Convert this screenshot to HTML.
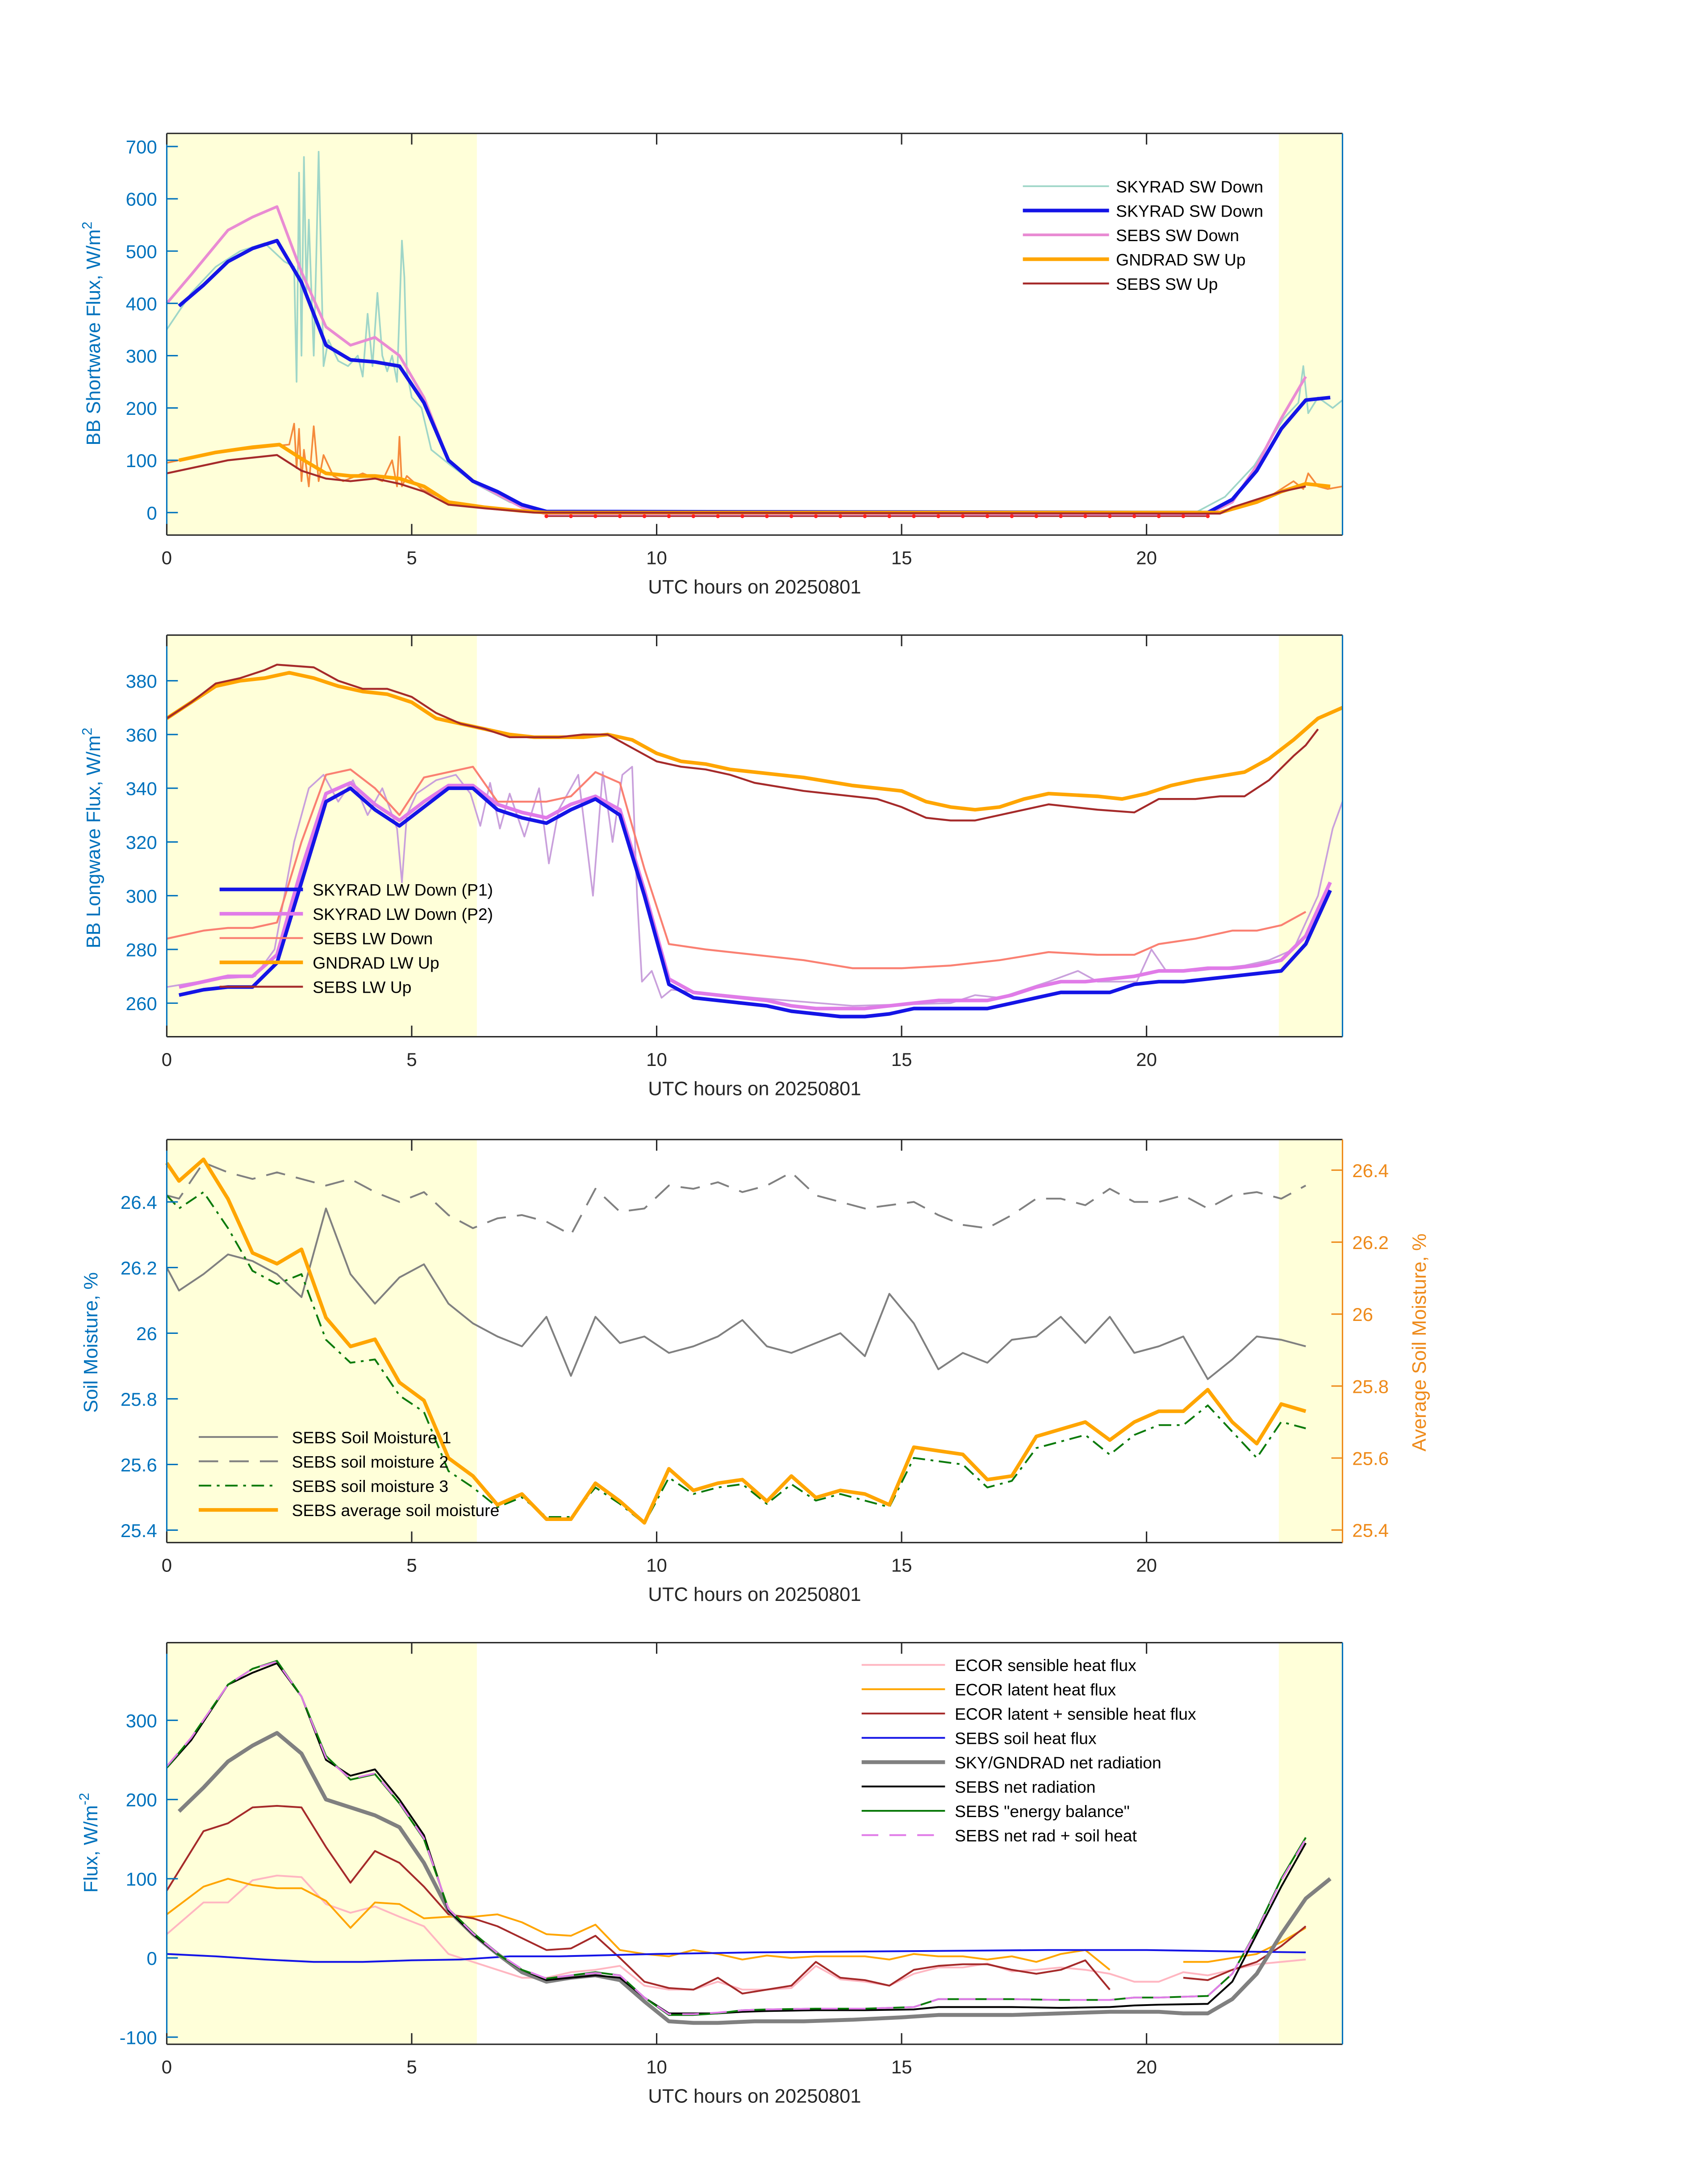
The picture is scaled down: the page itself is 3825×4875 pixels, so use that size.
<!DOCTYPE html>
<html><head><meta charset="utf-8"><style>
html,body{margin:0;padding:0;background:#fff;}
svg{display:block;font-family:"Liberation Sans","DejaVu Sans",sans-serif;}
</style></head><body>
<svg id="fig" width="3825" height="4875" viewBox="0 0 1229 1566.5" preserveAspectRatio="none" xmlns="http://www.w3.org/2000/svg"></svg>
<script>
// ---------- DATA ----------
const hrs = [0.25,0.75,1.25,1.75,2.25,2.75,3.25,3.75,4.25,4.75,5.25,5.75,6.25,6.75,7.25,7.75,8.25,8.75,9.25,9.75,10.25,10.75,11.25,11.75,12.25,12.75,13.25,13.75,14.25,14.75,15.25,15.75,16.25,16.75,17.25,17.75,18.25,18.75,19.25,19.75,20.25,20.75,21.25,21.75,22.25,22.75,23.25,23.75];
// Panel 1 (shortwave)
const swSkyT = [0.25,0.75,1.25,1.75,2.25,2.75,3.25,3.75,4.25,4.75,5.25,5.75,6.25,6.75,7.25,7.75,21.25,21.75,22.25,22.75,23.25,23.75];
const swSkyV = [395,435,480,505,520,440,320,292,288,280,210,100,60,40,15,2,0,25,80,160,215,220];
const swSkyRawT = [0,0.5,1,1.5,2,2.4,2.6,2.65,2.7,2.75,2.8,2.85,2.9,3.0,3.05,3.1,3.2,3.3,3.5,3.7,3.9,4.0,4.1,4.2,4.3,4.4,4.5,4.6,4.7,4.8,4.85,4.9,5.0,5.2,5.4,5.8,6.3,7,7.8,21,21.6,22.2,22.8,23.1,23.2,23.3,23.5,23.8,24];
const swSkyRawV = [350,420,470,500,515,480,470,250,650,300,680,420,560,300,480,690,280,330,290,280,300,260,380,280,420,300,270,300,250,520,450,270,220,200,120,90,55,20,2,0,30,90,180,210,280,190,220,200,215];
const swSebsT = [0,0.5,1.25,1.75,2.25,2.75,3.25,3.75,4.25,4.75,5.25,5.75,6.25,6.75,7.25,7.75,21.25,21.75,22.25,22.75,23.25];
const swSebsV = [400,455,540,565,585,460,355,320,335,300,220,100,60,35,10,-3,-3,20,90,180,260];
const swGndT = [0.25,1,1.75,2.3,2.8,3.25,3.75,4.25,4.75,5.25,5.75,6.5,7.25,7.75,21.5,22.25,22.75,23.25,23.75];
const swGndV = [100,115,125,130,100,75,70,70,65,50,20,10,3,0,0,20,40,55,50];
const swGndRawT = [0,1,2,2.5,2.6,2.65,2.7,2.75,2.8,2.9,3.0,3.1,3.2,3.4,3.6,4.0,4.4,4.6,4.7,4.75,4.8,4.9,5.2,5.8,6.5,7.5,21.5,22.5,23.0,23.2,23.3,23.5,23.7,24];
const swGndRawV = [95,115,125,130,170,85,160,60,120,50,165,60,110,70,60,75,60,100,50,145,50,70,45,20,8,0,0,30,60,45,75,50,45,50];
const swSebsUpT = [0,1.25,2.25,2.75,3.25,3.75,4.25,4.75,5.25,5.75,6.5,7.5,21.5,21.75,22.25,22.75,23.25];
const swSebsUpV = [75,100,110,80,65,60,65,55,40,15,8,0,-2,10,25,40,50];
const swDotT = [7.75,8.25,8.75,9.25,9.75,10.25,10.75,11.25,11.75,12.25,12.75,13.25,13.75,14.25,14.75,15.25,15.75,16.25,16.75,17.25,17.75,18.25,18.75,19.25,19.75,20.25,20.75,21.25];
const swDotV = [-7,-7,-7,-7,-7,-7,-7,-7,-7,-7,-7,-7,-7,-7,-7,-7,-7,-7,-7,-7,-7,-7,-7,-7,-7,-7,-7,-7];
// Panel 2 (longwave)
const lwP1V = [263,265,266,266,275,305,335,340,332,326,333,340,340,332,329,327,332,336,330,300,267,262,261,260,259,257,256,255,255,256,258,258,258,258,260,262,264,264,264,267,268,268,269,270,271,272,282,302];
const lwP2V = [266,268,270,270,278,310,338,342,334,328,335,341,341,334,331,329,334,337,332,302,269,264,263,262,261,259,258,258,258,259,260,261,261,261,263,266,268,268,269,270,272,272,273,273,274,276,285,305];
const lwP2RawT = [0,1,1.8,2.2,2.6,2.9,3.2,3.5,3.8,4.1,4.4,4.7,4.8,4.9,5.1,5.5,5.9,6.2,6.4,6.6,6.8,7.0,7.3,7.6,7.8,8.0,8.4,8.7,8.9,9.1,9.3,9.5,9.6,9.7,9.9,10.1,10.3,12,14,16,16.5,17,18,18.6,19,19.8,20.1,20.4,21,22,22.5,23,23.5,23.8,24];
const lwP2RawV = [266,269,270,280,320,340,345,335,343,330,340,325,305,330,338,343,345,338,326,342,325,338,322,340,312,332,345,300,346,320,345,348,300,268,272,262,265,262,259,260,263,262,268,272,268,268,280,272,272,274,276,280,300,325,335];
const lwSebsDnT = [0,0.75,1.25,1.75,2.25,2.75,3.25,3.75,4.25,4.75,5.25,5.75,6.25,6.75,7.25,7.75,8.25,8.75,9.25,9.75,10.25,11,12,13,14,15,16,17,18,19,19.75,20.25,21,21.75,22.25,22.75,23.25];
const lwSebsDnV = [284,287,288,288,290,320,345,347,340,330,344,346,348,335,335,335,337,346,342,310,282,280,278,276,273,273,274,276,279,278,278,282,284,287,287,289,294];
const lwGndT = [0,0.5,1,1.5,2,2.5,3,3.5,4,4.5,5,5.5,6,6.5,7,7.5,8,8.5,9,9.5,10,10.5,11,11.5,12,13,14,15,15.5,16,16.5,17,17.5,18,19,19.5,20,20.5,21,22,22.5,23,23.5,24];
const lwGndV = [366,372,378,380,381,383,381,378,376,375,372,366,364,362,360,359,359,359,360,358,353,350,349,347,346,344,341,339,335,333,332,333,336,338,337,336,338,341,343,346,351,358,366,370];
const lwSebsUpT = [0,0.5,1,1.5,2,2.25,3,3.5,4,4.5,5,5.5,6,6.5,7,7.5,8,8.5,9,9.5,10,10.5,11,11.5,12,13,14,14.5,15,15.5,16,16.5,17,18,19,19.75,20.25,21,21.5,22,22.5,23,23.25,23.5];
const lwSebsUpV = [366,372,379,381,384,386,385,380,377,377,374,368,364,362,359,359,359,360,360,355,350,348,347,345,342,339,337,336,333,329,328,328,330,334,332,331,336,336,337,337,343,352,356,362];
// Panel 3 (soil moisture)
const sm1V = [26.13,26.18,26.24,26.22,26.18,26.11,26.38,26.18,26.09,26.17,26.21,26.09,26.03,25.99,25.96,26.05,25.87,26.05,25.97,25.99,25.94,25.96,25.99,26.04,25.96,25.94,25.97,26.0,25.93,26.12,26.03,25.89,25.94,25.91,25.98,25.99,26.05,25.97,26.05,25.94,25.96,25.99,25.86,25.92,25.99,25.98,25.96];
const sm2V = [26.41,26.52,26.49,26.47,26.49,26.47,26.45,26.47,26.43,26.40,26.43,26.36,26.32,26.35,26.36,26.34,26.30,26.44,26.37,26.38,26.45,26.44,26.46,26.43,26.45,26.49,26.42,26.40,26.38,26.39,26.40,26.36,26.33,26.32,26.36,26.41,26.41,26.39,26.44,26.40,26.40,26.42,26.38,26.42,26.43,26.41,26.45];
const sm3V = [26.38,26.43,26.32,26.19,26.15,26.18,25.98,25.91,25.92,25.81,25.76,25.58,25.53,25.47,25.50,25.44,25.44,25.53,25.48,25.42,25.56,25.51,25.53,25.54,25.48,25.54,25.49,25.51,25.49,25.47,25.62,25.61,25.60,25.53,25.55,25.65,25.67,25.69,25.63,25.69,25.72,25.72,25.78,25.70,25.62,25.73,25.71];
const smAvgV = [26.37,26.43,26.32,26.17,26.14,26.18,25.99,25.91,25.93,25.81,25.76,25.60,25.55,25.47,25.50,25.43,25.43,25.53,25.48,25.42,25.57,25.51,25.53,25.54,25.48,25.55,25.49,25.51,25.50,25.47,25.63,25.62,25.61,25.54,25.55,25.66,25.68,25.70,25.65,25.70,25.73,25.73,25.79,25.70,25.64,25.75,25.73];
// Panel 4 (energy flux)
const fxT = [0,0.5,1.25,1.75,2.25,2.75,3.25,3.75,4.25,4.75,5.25,5.75,6.25,6.75,7.25,7.75,8.25,8.75,9.25,9.75,10.25,10.75,11.25,11.75,12.25,13.25,14.25,15.25,15.75,16.25,17.25,18.25,19.25,19.75,20.25,21.25,21.75,22.25,22.75,23.25];
const netV = [240,275,345,360,372,330,250,230,238,200,155,60,30,5,-15,-28,-25,-22,-25,-50,-70,-70,-70,-68,-67,-66,-66,-65,-62,-62,-62,-63,-62,-60,-59,-58,-30,30,90,145];
const ebV = [240,278,345,365,375,330,255,225,232,195,150,62,32,5,-15,-26,-22,-18,-22,-50,-72,-72,-70,-66,-65,-64,-64,-62,-52,-52,-52,-53,-53,-50,-50,-48,-20,35,100,152];
const nrsV = [242,278,345,365,374,330,253,226,233,196,151,62,31,6,-14,-26,-22,-19,-22,-50,-71,-71,-69,-66,-65,-64,-64,-62,-52,-52,-52,-53,-53,-50,-50,-48,-20,34,98,150];
const gndNetT = [0.25,0.75,1.25,1.75,2.25,2.75,3.25,3.75,4.25,4.75,5.25,5.75,6.25,6.75,7.25,7.75,8.25,8.75,9.25,9.75,10.25,10.75,11.25,12,13,14,15,15.75,16.25,17.25,18.25,19.25,19.75,20.25,20.75,21.25,21.75,22.25,22.75,23.25,23.75];
const gndNetV = [185,215,248,268,284,258,200,190,180,165,120,60,30,5,-18,-30,-25,-22,-28,-55,-80,-82,-82,-80,-80,-78,-75,-72,-72,-72,-70,-68,-68,-68,-70,-70,-52,-20,30,75,100];
const ecT = [0,0.75,1.25,1.75,2.25,2.75,3.25,3.75,4.25,4.75,5.25,5.75,6.25,6.75,7.25,7.75,8.25,8.75,9.25,9.75,10.25,10.75,11.25,11.75,12.25,12.75,13.25,13.75,14.25,14.75,15.25,15.75,16.25,16.75,17.25,17.75,18.25,18.75,19.25,19.75,20.25,20.75,21.25,21.75,22.25,22.75,23.25];
const ecSumV = [85,160,170,190,192,190,140,95,135,120,90,55,50,40,25,10,12,28,0,-30,-38,-40,-25,-45,-40,-35,-5,-25,-28,-35,-15,-10,-8,-8,-15,-20,-15,-3,-40,null,null,-25,-28,-15,-5,15,40];
const ecLatV = [55,90,100,92,88,88,72,38,70,68,50,52,52,55,45,30,28,42,10,5,2,10,5,-2,3,0,2,2,2,-2,5,2,2,-2,2,-5,5,10,-15,null,null,-5,-5,0,5,20,38];
const ecSenV = [30,70,70,98,104,102,68,57,65,52,40,5,-5,-15,-25,-25,-18,-15,-10,-35,-40,-40,-30,-40,-40,-38,-10,-27,-30,-35,-20,-12,-12,-7,-17,-15,-12,-15,-20,-30,-30,-18,-22,-15,-8,-5,-2];
const soilT = [0,1,2,3,4,5,6,7,8,10,12,14,16,18,20,22,23.25];
const soilV = [5,2,-2,-5,-5,-3,-2,2,2,5,7,8,9,10,10,8,7];

// ---------- DRAWING ----------
const NS="http://www.w3.org/2000/svg";
const svg=document.getElementById('fig');
const BLUE="#0072BD", ORANGE="#EE8A1A";
function el(tag,attrs,parent){const e=document.createElementNS(NS,tag);for(const k in attrs)e.setAttribute(k,attrs[k]);(parent||svg).appendChild(e);return e;}
const X0=120,X1=966;
function xs(t){return X0+(t/24)*(X1-X0);}
function makeY(top,bot,vmin,vmax){return v=>bot-(v-vmin)/(vmax-vmin)*(bot-top);}
function pathFrom(T,V,ys){let d='',pen=false;for(let i=0;i<T.length;i++){if(V[i]===null||V[i]===undefined){pen=false;continue;}d+=(pen?'L':'M')+xs(T[i]).toFixed(2)+' '+ys(V[i]).toFixed(2)+' ';pen=true;}return d;}
function series(g,T,V,ys,color,w,name,dash){const p=el('path',{d:pathFrom(T,V,ys),fill:'none',stroke:color,'stroke-width':w,'stroke-linejoin':'round'},g);if(dash)p.setAttribute('stroke-dasharray',dash);


return p;}
function panel(id,top,bot){
  const g=el('g',{},svg);
  
  
  const s1=el('rect',{x:X0,y:top,width:xs(6.33)-X0,height:bot-top,fill:'#FFFFD9'},g);
  
  
  const s2=el('rect',{x:xs(22.7),y:top,width:X1-xs(22.7),height:bot-top,fill:'#FFFFD9'},g);
  
  
  return g;
}
function frame(g,top,bot,leftColor,rightColor){
  el('line',{x1:X0,y1:bot,x2:X1,y2:bot,stroke:'#262626','stroke-width':1},g);
  el('line',{x1:X0,y1:top,x2:X1,y2:top,stroke:'#262626','stroke-width':1},g);
  el('line',{x1:X0,y1:top,x2:X0,y2:bot,stroke:leftColor,'stroke-width':1},g);
  el('line',{x1:X1,y1:top,x2:X1,y2:bot,stroke:rightColor||leftColor,'stroke-width':1},g);
  for(const t of [0,5,10,15,20]){
    el('line',{x1:xs(t),y1:bot,x2:xs(t),y2:bot-8,stroke:'#262626'},g);
    el('line',{x1:xs(t),y1:top,x2:xs(t),y2:top+8,stroke:'#262626'},g);
    const tx=el('text',{x:xs(t),y:bot+21,'font-size':13.5,'text-anchor':'middle',fill:'#262626'},g);tx.textContent=t;
    
    
  }
  const xl=el('text',{x:543,y:bot+42,'font-size':14,'text-anchor':'middle',fill:'#262626'},g);xl.textContent='UTC hours on 20250801';
  
  
}
function yticks(g,ticks,ys,color,side){
  for(const v of ticks){const y=ys(v);
    if(side==='left'){el('line',{x1:X0,y1:y,x2:X0+8,y2:y,stroke:color},g);
      const t=el('text',{x:X0-7,y:y+5,'font-size':13.5,'text-anchor':'end',fill:color},g);t.textContent=v;
      
      }
    else{el('line',{x1:X1,y1:y,x2:X1-8,y2:y,stroke:color},g);
      const t=el('text',{x:X1+7,y:y+5,'font-size':13.5,'text-anchor':'start',fill:color},g);t.textContent=v;
      
      }
  }
}
function ylabel(g,x,y,html,color,name){
  const t=el('text',{x:x,y:y,'font-size':14,'text-anchor':'middle',fill:color,transform:`rotate(-90 ${x} ${y})`},g);t.innerHTML=html;
  
  
}
function legend(g,x1,x2,tx,y0,dy,items){
  items.forEach((it,i)=>{const y=y0+i*dy;
    const l=el('line',{x1:x1,y1:y,x2:x2,y2:y,stroke:it[1],'stroke-width':it[2]},g);if(it[3])l.setAttribute('stroke-dasharray',it[3]);
    const t=el('text',{x:tx,y:y+4.5,'font-size':12,fill:'#000'},g);t.textContent=it[0];
    
    
  });
}

// Panel 1
{const top=96,bot=385,ys=makeY(top,bot,-43,725);const g=panel('shortwave-panel',top,bot);
 series(g,swSkyRawT,swSkyRawV,ys,'#9FD6C8',1.2,'skyrad-sw-down-raw');
 series(g,swGndRawT,swGndRawV,ys,'#F58A3C',1.2,'gndrad-sw-up-raw');
 series(g,swSebsT,swSebsV,ys,'#E98BD3',2,'sebs-sw-down');
 series(g,swSkyT,swSkyV,ys,'#1414E6',2.6,'skyrad-sw-down');
 series(g,swGndT,swGndV,ys,'#FFA500',2.6,'gndrad-sw-up');
 series(g,swSebsUpT,swSebsUpV,ys,'#A52A2A',1.4,'sebs-sw-up');
 series(g,swDotT,swDotV,ys,'#A52A2A',1,'sebs-sw-night');
 swDotT.forEach((t,i)=>{const c=el('circle',{cx:xs(t),cy:ys(swDotV[i]),r:1.4,fill:'#FF2020'},g);
   
   });
 frame(g,top,bot,BLUE);
 yticks(g,[0,100,200,300,400,500,600,700],ys,BLUE,'left');
 ylabel(g,72,240,'BB Shortwave Flux, W/m<tspan font-size="10" dy="-6">2</tspan>',BLUE,'y-axis-title');
 legend(g,736,798,803,134,17.5,[['SKYRAD SW Down','#9FD6C8',1.2],['SKYRAD SW Down','#1414E6',2.6],['SEBS SW Down','#E98BD3',2],['GNDRAD SW Up','#FFA500',2.6],['SEBS SW Up','#A52A2A',1.4]]);
}
// Panel 2
{const top=457,bot=746,ys=makeY(top,bot,247.5,397);const g=panel('longwave-panel',top,bot);
 series(g,lwP2RawT,lwP2RawV,ys,'#C9A0DC',1.2,'skyrad-lw-down-p2-raw');
 series(g,lwSebsDnT,lwSebsDnV,ys,'#FA8072',1.4,'sebs-lw-down');
 series(g,lwGndT,lwGndV,ys,'#FFA500',2.6,'gndrad-lw-up');
 series(g,lwSebsUpT,lwSebsUpV,ys,'#A52A2A',1.4,'sebs-lw-up');
 series(g,hrs,lwP2V,ys,'#E07BE8',2.6,'skyrad-lw-down-p2');
 series(g,hrs,lwP1V,ys,'#1414E6',2.6,'skyrad-lw-down-p1');
 frame(g,top,bot,BLUE);
 yticks(g,[260,280,300,320,340,360,380],ys,BLUE,'left');
 ylabel(g,72,603,'BB Longwave Flux, W/m<tspan font-size="10" dy="-6">2</tspan>',BLUE,'y-axis-title');
 legend(g,158,218,225,640,17.5,[['SKYRAD LW Down (P1)','#1414E6',2.6],['SKYRAD LW Down (P2)','#E07BE8',2.6],['SEBS LW Down','#FA8072',1.4],['GNDRAD LW Up','#FFA500',2.6],['SEBS LW Up','#A52A2A',1.4]]);
}
// Panel 3
{const top=820,bot=1110,ysL=makeY(top,bot,25.362,26.59),ysR=makeY(top,bot,25.365,26.485);const g=panel('soil-moisture-panel',top,bot);
 const sT=[0].concat(hrs.slice(0,47));
 series(g,sT,[26.2].concat(sm1V),ysL,'#808080',1.3,'sebs-soil-moisture-1');
 series(g,sT,[26.42].concat(sm2V),ysL,'#808080',1.3,'sebs-soil-moisture-2','14,8');
 series(g,sT,[26.42].concat(sm3V),ysL,'#0A7A0A',1.3,'sebs-soil-moisture-3','9,4,2,4');
 series(g,sT,[26.42].concat(smAvgV),ysR,'#FFA500',2.6,'sebs-average-soil-moisture');
 frame(g,top,bot,BLUE,ORANGE);
 yticks(g,[25.4,25.6,25.8,26,26.2,26.4],ysL,BLUE,'left');
 yticks(g,[25.4,25.6,25.8,26,26.2,26.4],ysR,ORANGE,'right');
 ylabel(g,70,966,'Soil Moisture, %',BLUE,'y-axis-title');
 ylabel(g,1026,966,'Average Soil Moisture, %',ORANGE,'right-y-axis-title');
 legend(g,143,200,210,1034,17.5,[['SEBS Soil Moisture 1','#808080',1.3],['SEBS soil moisture 2','#808080',1.3,'14,8'],['SEBS soil moisture 3','#0A7A0A',1.3,'9,4,2,4'],['SEBS average soil moisture','#FFA500',2.6]]);
}
// Panel 4
{const top=1182,bot=1471,ys=makeY(top,bot,-109,398);const g=panel('energy-flux-panel',top,bot);
 series(g,ecT,ecSenV,ys,'#FFB6C1',1.3,'ecor-sensible-heat-flux');
 series(g,ecT,ecLatV,ys,'#FFA500',1.3,'ecor-latent-heat-flux');
 series(g,ecT,ecSumV,ys,'#A52A2A',1.3,'ecor-latent-plus-sensible');
 series(g,soilT,soilV,ys,'#1414E6',1.3,'sebs-soil-heat-flux');
 series(g,gndNetT,gndNetV,ys,'#808080',2.8,'sky-gndrad-net-radiation');
 series(g,fxT,netV,ys,'#000000',1.3,'sebs-net-radiation');
 series(g,fxT,ebV,ys,'#0A7A0A',1.3,'sebs-energy-balance');
 series(g,fxT,nrsV,ys,'#E07BE8',1.3,'sebs-net-rad-plus-soil-heat','12,8');
 frame(g,top,bot,BLUE);
 yticks(g,[-100,0,100,200,300],ys,BLUE,'left');
 ylabel(g,70,1326,'Flux, W/m<tspan font-size="10" dy="-6">-2</tspan>',BLUE,'y-axis-title');
 legend(g,620,680,687,1198,17.5,[['ECOR sensible heat flux','#FFB6C1',1.3],['ECOR latent heat flux','#FFA500',1.3],['ECOR latent + sensible heat flux','#A52A2A',1.3],['SEBS soil heat flux','#1414E6',1.3],['SKY/GNDRAD net radiation','#808080',2.8],['SEBS net radiation','#000000',1.3],['SEBS "energy balance"','#0A7A0A',1.3],['SEBS net rad + soil heat','#E07BE8',1.3,'12,8']]);
}
</script>
</body></html>
